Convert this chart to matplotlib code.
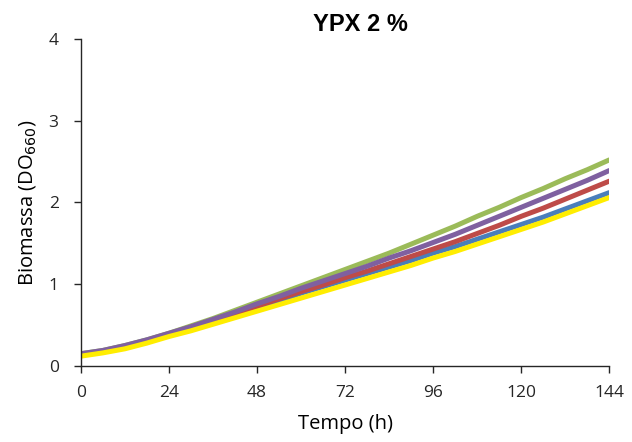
import matplotlib
matplotlib.use('Agg')
import matplotlib.pyplot as plt

# tempo (h) e biomassa (DO660) por série
tempo = [0, 6, 12, 18, 24, 30, 36, 42, 48, 54, 60, 66, 72,
         78, 84, 90, 96, 102, 108, 114, 120, 126, 132, 138, 144]
verde = [0.15, 0.19, 0.25, 0.32, 0.40, 0.49, 0.58, 0.68, 0.78, 0.88, 0.98, 1.08, 1.18,
         1.28, 1.38, 1.49, 1.60, 1.71, 1.83, 1.94, 2.06, 2.17, 2.29, 2.40, 2.52]
roxo = [0.15, 0.19, 0.25, 0.32, 0.40, 0.48, 0.57, 0.66, 0.76, 0.85, 0.95, 1.04, 1.13,
        1.22, 1.32, 1.41, 1.51, 1.61, 1.72, 1.83, 1.94, 2.05, 2.16, 2.27, 2.39]
vermelho = [0.14, 0.18, 0.24, 0.31, 0.38, 0.46, 0.55, 0.64, 0.73, 0.82, 0.91, 0.99, 1.08,
            1.16, 1.25, 1.34, 1.43, 1.52, 1.62, 1.72, 1.83, 1.93, 2.04, 2.15, 2.26]
azul = [0.13, 0.18, 0.23, 0.30, 0.38, 0.46, 0.54, 0.63, 0.72, 0.80, 0.89, 0.97, 1.05,
        1.13, 1.21, 1.29, 1.38, 1.46, 1.55, 1.64, 1.73, 1.82, 1.92, 2.02, 2.12]
amarelo = [0.12, 0.16, 0.21, 0.28, 0.36, 0.43, 0.51, 0.59, 0.67, 0.75, 0.83, 0.91, 0.99,
           1.07, 1.15, 1.23, 1.32, 1.40, 1.49, 1.58, 1.67, 1.76, 1.86, 1.96, 2.06]

xticks = [0, 24, 48, 72, 96, 120, 144]
yticks = [0, 1, 2, 3, 4]

plt.rcParams['font.family'] = ['Open Sans', 'DejaVu Sans']

fig = plt.figure(figsize=(6.32, 4.42), dpi=100)
ax = fig.add_axes([0.128, 0.172, 0.836, 0.74])

series = [(verde, '#9BBB59'), (azul, '#4A7EBB'), (vermelho, '#BE4B48'),
          (roxo, '#7F60A0'), (amarelo, '#FFED00')]
for ys, c in series:
    ax.plot(tempo, ys, color=c, linewidth=3.6, solid_capstyle='round')

ax.set_xlim(0, 144)
ax.set_ylim(0, 4)
ax.set_xticks(xticks)
ax.set_yticks(yticks)
ax.tick_params(direction='out', length=5, width=1, colors='#262626', labelsize=12.5)
ax.tick_params(axis='y', pad=11)
ax.tick_params(axis='x', pad=9)
for s in ['top', 'right']:
    ax.spines[s].set_visible(False)
for s in ['left', 'bottom']:
    ax.spines[s].set_color('#262626')
    ax.spines[s].set_linewidth(1.0)

ax.set_xlabel('Tempo (h)', fontsize=14.5, labelpad=9)
ax.set_ylabel('Biomassa (DO$_{660}$)', fontsize=14.5, labelpad=8)
fig.text(0.57, 0.945, 'YPX 2 %', fontsize=17, fontweight='bold',
         family=['Liberation Sans', 'DejaVu Sans'], ha='center', va='center')

fig.savefig('out.png', dpi=100)
